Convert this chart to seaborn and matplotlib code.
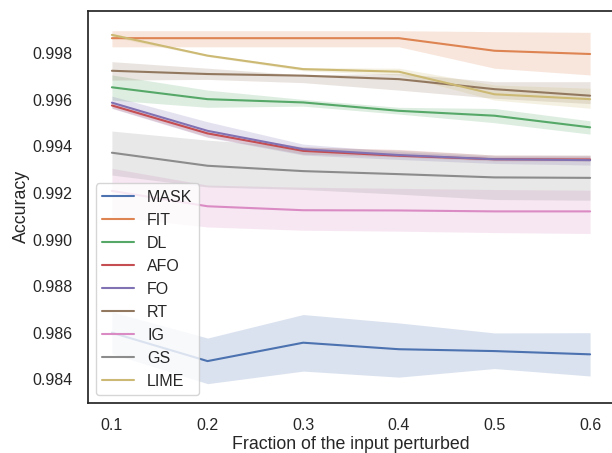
import matplotlib
matplotlib.use("Agg")
import matplotlib.pyplot as plt
import numpy as np
import pandas as pd
import seaborn as sns

# Fractions of the input that were perturbed
fractions = [0.1, 0.2, 0.3, 0.4, 0.5, 0.6]
methods = ["MASK", "FIT", "DL", "AFO", "FO", "RT", "IG", "GS", "LIME"]

# Mean accuracy per method
mask_acc = [0.98600, 0.98478, 0.98557, 0.98529, 0.98521, 0.98507]
fit_acc = [0.99865, 0.99865, 0.99865, 0.99865, 0.99811, 0.99797]
dl_acc = [0.99654, 0.99603, 0.99589, 0.99553, 0.99532, 0.99482]
afo_acc = [0.99576, 0.99456, 0.99381, 0.99360, 0.99345, 0.99344]
fo_acc = [0.99588, 0.99467, 0.99388, 0.99363, 0.99345, 0.99341]
rt_acc = [0.99725, 0.99711, 0.99704, 0.99689, 0.99646, 0.99618]
ig_acc = [0.99209, 0.99143, 0.99126, 0.99125, 0.99121, 0.99121]
gs_acc = [0.99373, 0.99317, 0.99294, 0.99281, 0.99267, 0.99265]
lime_acc = [0.99879, 0.99790, 0.99732, 0.99721, 0.99624, 0.99603]

# Confidence band edges (lower, upper)
mask_lo = [0.98510, 0.98381, 0.98435, 0.98409, 0.98446, 0.98414]
mask_hi = [0.98689, 0.98577, 0.98678, 0.98642, 0.98599, 0.98600]
fit_lo = [0.99828, 0.99828, 0.99828, 0.99828, 0.99736, 0.99707]
fit_hi = [0.99897, 0.99897, 0.99897, 0.99897, 0.99893, 0.99890]
dl_lo = [0.99599, 0.99568, 0.99573, 0.99539, 0.99502, 0.99453]
dl_hi = [0.99707, 0.99642, 0.99602, 0.99568, 0.99563, 0.99510]
afo_lo = [0.99565, 0.99441, 0.99367, 0.99355, 0.99338, 0.99337]
afo_hi = [0.99588, 0.99463, 0.99398, 0.99387, 0.99363, 0.99362]
fo_lo = [0.99563, 0.99439, 0.99363, 0.99344, 0.99327, 0.99320]
fo_hi = [0.99616, 0.99506, 0.99410, 0.99377, 0.99358, 0.99358]
rt_lo = [0.99685, 0.99688, 0.99674, 0.99642, 0.99607, 0.99584]
rt_hi = [0.99764, 0.99736, 0.99707, 0.99714, 0.99678, 0.99678]
ig_lo = [0.99100, 0.99054, 0.99040, 0.99036, 0.99030, 0.99026]
ig_hi = [0.99306, 0.99234, 0.99225, 0.99220, 0.99215, 0.99212]
gs_lo = [0.99277, 0.99226, 0.99215, 0.99195, 0.99172, 0.99169]
gs_hi = [0.99466, 0.99427, 0.99398, 0.99384, 0.99363, 0.99363]
lime_lo = [0.99871, 0.99786, 0.99725, 0.99707, 0.99599, 0.99564]
lime_hi = [0.99887, 0.99794, 0.99739, 0.99736, 0.99664, 0.99650]

means = [mask_acc, fit_acc, dl_acc, afo_acc, fo_acc, rt_acc, ig_acc, gs_acc, lime_acc]
lows = [mask_lo, fit_lo, dl_lo, afo_lo, fo_lo, rt_lo, ig_lo, gs_lo, lime_lo]
highs = [mask_hi, fit_hi, dl_hi, afo_hi, fo_hi, rt_hi, ig_hi, gs_hi, lime_hi]

rows = []
for name, acc in zip(methods, means):
    for f, a in zip(fractions, acc):
        rows.append({"fraction": f, "accuracy": a, "method": name})
df = pd.DataFrame(rows)

sns.set_theme(style="white")
plt.rcParams["font.family"] = ["Liberation Sans", "DejaVu Sans"]
palette = sns.color_palette("deep", len(methods))

fig = plt.figure(figsize=(6.12, 4.53), dpi=100)
ax = fig.add_axes([88 / 612, 1 - 403 / 453, (614 - 88) / 612, (403 - 10.7) / 453])

sns.lineplot(data=df, x="fraction", y="accuracy", hue="method",
             hue_order=methods, palette=palette, ax=ax)
for color, lo, hi in zip(palette, lows, highs):
    ax.fill_between(fractions, lo, hi, color=color, alpha=0.2, linewidth=0)

ax.set_xlim(0.075, 0.625)
ax.set_ylim(0.98298, 0.99983)
ax.set_xticks(fractions)
ax.set_yticks(np.arange(0.984, 0.9985, 0.002))
ax.tick_params(labelsize=11.5, pad=5)
ax.set_xlabel("Fraction of the input perturbed", fontsize=12.8, labelpad=2)
ax.set_ylabel("Accuracy", fontsize=12.8, labelpad=2)
for s in ax.spines.values():
    s.set_color(".15")
    s.set_linewidth(1.25)
ax.legend(loc="lower left", title=None, fontsize=11.5)

fig.savefig("out.png", dpi=100)
